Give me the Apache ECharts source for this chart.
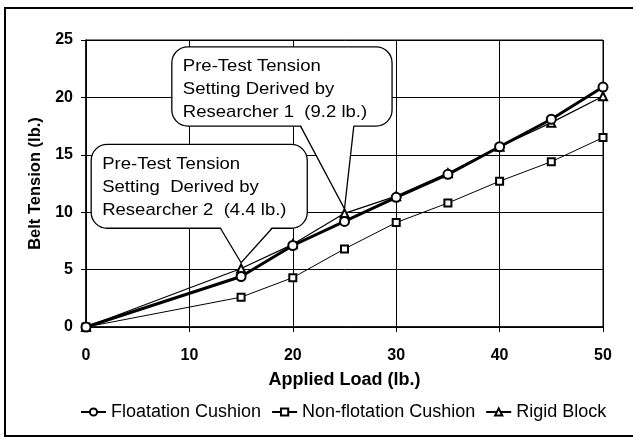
<!DOCTYPE html>
<html>
<head>
<meta charset="utf-8">
<script src="https://cdn.jsdelivr.net/npm/echarts@6/dist/echarts.min.js"></script>
<style>
  html, body { margin: 0; padding: 0; background: #fff; }
  #chart { width: 633px; height: 438px; }
</style>
</head>
<body>
<div id="chart"></div>
<script>
// applied load (lb.)
const loads = [0, 15, 20, 25, 30, 35, 40, 45, 50];
// belt tension (lb.)
const floatation = [0, 4.4, 7.1, 9.2, 11.3, 13.3, 15.7, 18.1, 20.9];
const nonFlotation = [0, 2.6, 4.3, 6.8, 9.1, 10.8, 12.7, 14.4, 16.5];
const rigidBlock = [0, 5.1, 7.2, 9.9, 11.4, 13.4, 15.7, 17.8, 20.1];

const xTicks = [0, 10, 20, 30, 40, 50];
const yTicks = [0, 5, 10, 15, 20, 25];

// callouts: text lines, box corners and pointer (in data units)
const callouts = [
  {
    lines: ["Pre-Test Tension", "Setting Derived by", "Researcher 1  (9.2 lb.)"],
    box: [8.3, 24.4, 29.6, 17.5],
    tail: [20.75, 25.9],
    tip: [25, 10.3]
  },
  {
    lines: ["Pre-Test Tension", "Setting  Derived by", "Researcher 2  (4.4 lb.)"],
    box: [0.5, 15.9, 21.4, 8.6],
    tail: [13.0, 18.0],
    tip: [15, 5.6]
  }
];

const pairs = (ys) => loads.map((x, i) => [x, ys[i]]);
const font = "'Liberation Sans', Arial, Helvetica, sans-serif";

const chart = echarts.init(document.getElementById("chart"));

const option = {
  animation: false,
  backgroundColor: "#fff",
  textStyle: { fontFamily: font, color: "#000" },
  grid: { left: 86, right: 30, top: 40, bottom: 111, show: true, borderColor: "#000", borderWidth: 1 },
  xAxis: {
    type: "value",
    min: xTicks[0],
    max: xTicks[xTicks.length - 1],
    interval: 10,
    name: "Applied Load (lb.)",
    nameLocation: "middle",
    nameGap: 44,
    nameTextStyle: { fontFamily: font, fontWeight: "bold", fontSize: 18, color: "#000" },
    axisLine: { lineStyle: { color: "#000", width: 1.5 } },
    axisTick: { show: true, inside: false, length: 5, lineStyle: { color: "#000" } },
    axisLabel: { fontFamily: font, fontWeight: "bold", fontSize: 16, color: "#000", margin: 21 },
    splitLine: { show: true, lineStyle: { color: "#000", width: 1 } }
  },
  yAxis: {
    type: "value",
    min: yTicks[0],
    max: yTicks[yTicks.length - 1],
    interval: 5,
    name: "Belt Tension (lb.)",
    nameLocation: "middle",
    nameGap: 39,
    nameTextStyle: { fontFamily: font, fontWeight: "bold", fontSize: 16.5, color: "#000" },
    axisLine: { lineStyle: { color: "#000", width: 1.5 } },
    axisTick: { show: true, inside: false, length: 5, lineStyle: { color: "#000" } },
    axisLabel: { fontFamily: font, fontWeight: "bold", fontSize: 16, color: "#000", margin: 13 },
    splitLine: { show: true, lineStyle: { color: "#000", width: 1 } }
  },
  legend: {
    bottom: 12,
    left: 75,
    itemWidth: 25,
    itemHeight: 9,
    itemGap: 10,
    textStyle: { fontFamily: font, fontSize: 18, color: "#000" },
    data: ["Floatation Cushion", "Non-flotation Cushion", "Rigid Block"]
  },
  series: [
    {
      name: "Non-flotation Cushion",
      type: "line",
      data: pairs(nonFlotation),
      symbol: "emptyRect",
      symbolSize: 7,
      lineStyle: { color: "#000", width: 1 },
      itemStyle: { color: "#000", borderColor: "#000", borderWidth: 1 }
    },
    {
      name: "Rigid Block",
      type: "line",
      data: pairs(rigidBlock),
      symbol: "emptyTriangle",
      symbolSize: 8,
      lineStyle: { color: "#000", width: 1.2 },
      itemStyle: { color: "#000", borderColor: "#000", borderWidth: 1 }
    },
    {
      name: "Floatation Cushion",
      type: "line",
      data: pairs(floatation),
      symbol: "emptyCircle",
      symbolSize: 9,
      lineStyle: { color: "#000", width: 3 },
      itemStyle: { color: "#000", borderColor: "#000", borderWidth: 2 }
    }
  ]
};

chart.setOption(option);

function drawCallouts() {
  const px = (p) => chart.convertToPixel({ gridIndex: 0 }, p);
  const elements = [];
  // outer frame
  elements.push({
    type: "rect",
    shape: { x: 5, y: 8, width: 640, height: 428 },
    style: { fill: null, stroke: "#000", lineWidth: 2 },
    z: 100
  });
  callouts.forEach((c) => {
    const a = px([c.box[0], c.box[1]]);
    const b = px([c.box[2], c.box[3]]);
    const t0 = px([c.tail[0], c.box[3]]);
    const t1 = px([c.tail[1], c.box[3]]);
    const tip = px(c.tip);
    elements.push({
      type: "rect",
      shape: { x: a[0], y: a[1], width: b[0] - a[0], height: b[1] - a[1], r: 16 },
      style: { fill: "#fff", stroke: "#000", lineWidth: 1.3 },
      z: 100
    });
    elements.push({
      type: "polygon",
      shape: { points: [[t0[0], t0[1] - 1.5], tip, [t1[0], t1[1] - 1.5]] },
      style: { fill: "#fff", stroke: null },
      z: 101
    });
    elements.push({
      type: "polyline",
      shape: { points: [t0, tip, t1] },
      style: { fill: null, stroke: "#000", lineWidth: 1.3 },
      z: 102
    });
    // the scanned lettering is a bit wider than Liberation Sans
    elements.push({
      type: "text",
      x: a[0] + 11,
      y: a[1] + 8,
      scaleX: 1.09,
      style: {
        text: c.lines.join("\n"),
        font: "17px " + font,
        lineHeight: 23,
        fill: "#000",
        align: "left",
        verticalAlign: "top"
      },
      z: 103
    });
  });
  chart.setOption({ graphic: elements });
}

drawCallouts();
</script>
</body>
</html>
